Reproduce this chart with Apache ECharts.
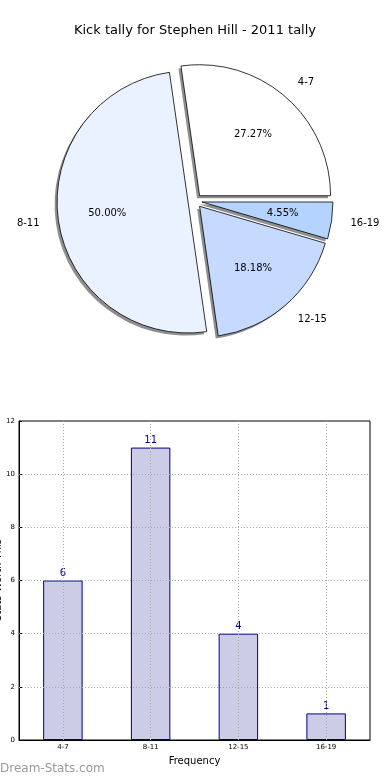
<!DOCTYPE html>
<html><head><meta charset="utf-8">
<script src="https://cdn.jsdelivr.net/npm/echarts@6/dist/echarts.min.js"></script>
<style>html,body{margin:0;padding:0;background:#fff}#c{width:390px;height:780px}</style>
</head><body><div id="c"></div>
<script>
const categories = ['4-7', '8-11', '12-15', '16-19'];
const counts = [6, 11, 4, 1];
const sliceColors = ['#ffffff', '#ebf2ff', '#c6d9ff', '#b4d4ff'];
const yTicks = [0, 2, 4, 6, 8, 10, 12];
const titleText = 'Kick tally for Stephen Hill - 2011 tally';
const xName = 'Frequency';
const yName = 'Stats Worth This';

const FONT = 'DejaVu Sans';
const R = 131, CX = 195, CY = 201, OFF = 7, SH = 2.5;
const GRID_STYLE = {type: [1, 2], color: '#a8a8a8', width: 1};

const chart = echarts.init(document.getElementById('c'), null, {renderer: 'canvas'});
const mk = (extra) => categories.map((c, i) => Object.assign({name: c, value: counts[i], selected: true}, extra ? extra(i) : {}));
const pieCommon = {
  startAngle: 0, clockwise: false, avoidLabelOverlap: false,
  selectedMode: 'multiple', selectedOffset: OFF,
  emphasis: {disabled: true}
};
const gridLines = categories.map(c => ({xAxis: c}))
  .concat(yTicks.slice(1, -1).map(v => ({yAxis: v})));
chart.setOption({
  animation: false,
  title: [
    {text: titleText, left: 'center', top: 19, textStyle: {fontFamily: FONT, fontSize: 13, fontWeight: 'normal', color: '#000'}},
    {text: 'Dream-Stats.com', left: 0, top: 763, padding: 0, textStyle: {fontFamily: FONT, fontSize: 12, fontWeight: 'normal', color: '#999999'}}
  ],
  graphic: [{
    type: 'text', x: -2, y: 580, rotation: Math.PI / 2,
    style: {text: yName, fontFamily: FONT, fontSize: 10, fill: '#000', align: 'center', verticalAlign: 'middle'}
  }],
  grid: {left: 19, right: 20, top: 421, bottom: 40, outerBoundsMode: 'none', containLabel: false,
    show: true, borderColor: '#000', borderWidth: 1, backgroundColor: 'transparent'},
  xAxis: [{
    type: 'category', data: categories, position: 'bottom',
    name: xName, nameLocation: 'middle', nameGap: 16,
    nameTextStyle: {fontFamily: FONT, fontSize: 10, color: '#000'},
    axisLine: {lineStyle: {color: '#000'}},
    axisTick: {inside: true, alignWithLabel: true, length: 3, lineStyle: {color: '#000'}},
    axisLabel: {fontFamily: FONT, fontSize: 7, color: '#000', margin: 4},
    splitLine: {show: false}
  }],
  yAxis: {
    type: 'value', min: 0, max: 12, interval: 2,
    axisLine: {show: true, lineStyle: {color: '#000'}},
    axisTick: {show: true, inside: true, length: 3, lineStyle: {color: '#000'}},
    axisLabel: {fontFamily: FONT, fontSize: 7, color: '#000', margin: 4},
    splitLine: {show: false}
  },
  series: [
    Object.assign({}, pieCommon, {
      type: 'pie', center: [CX - SH, CY + SH], radius: [0, R], silent: true,
      itemStyle: {color: '#8f8f8f', borderWidth: 0},
      label: {show: false}, labelLine: {show: false},
      data: mk(), z: 1
    }),
    Object.assign({}, pieCommon, {
      type: 'pie', center: [CX, CY], radius: [0, R],
      itemStyle: {borderColor: '#000', borderWidth: 0.8},
      label: {show: true, position: 'outside', fontFamily: FONT, fontSize: 10, color: '#000', formatter: '{b}', distanceToLabelLine: 0},
      labelLine: {show: false, length: 19, length2: 0},
      data: mk(i => ({itemStyle: {color: sliceColors[i]}})), z: 2
    }),
    Object.assign({}, pieCommon, {
      type: 'pie', center: [CX, CY], radius: [R * 0.2, R], silent: true,
      itemStyle: {color: 'rgba(0,0,0,0)', borderWidth: 0},
      label: {show: true, position: 'inside', fontFamily: FONT, fontSize: 10, color: '#000',
        formatter: p => p.percent.toFixed(2) + '%'},
      labelLine: {show: false},
      data: mk(), z: 3
    }),
    {
      type: 'bar', data: counts, barWidth: '45%',
      itemStyle: {color: '#ccccE6', borderColor: '#000088', borderWidth: 1},
      label: {show: true, position: 'top', fontFamily: FONT, fontSize: 10, color: '#000088', distance: 2},
      markLine: {silent: true, symbol: ['none', 'none'], label: {show: false},
        lineStyle: GRID_STYLE, emphasis: {disabled: true}, data: gridLines},
      z: 3
    }
  ]
});
</script></body></html>
